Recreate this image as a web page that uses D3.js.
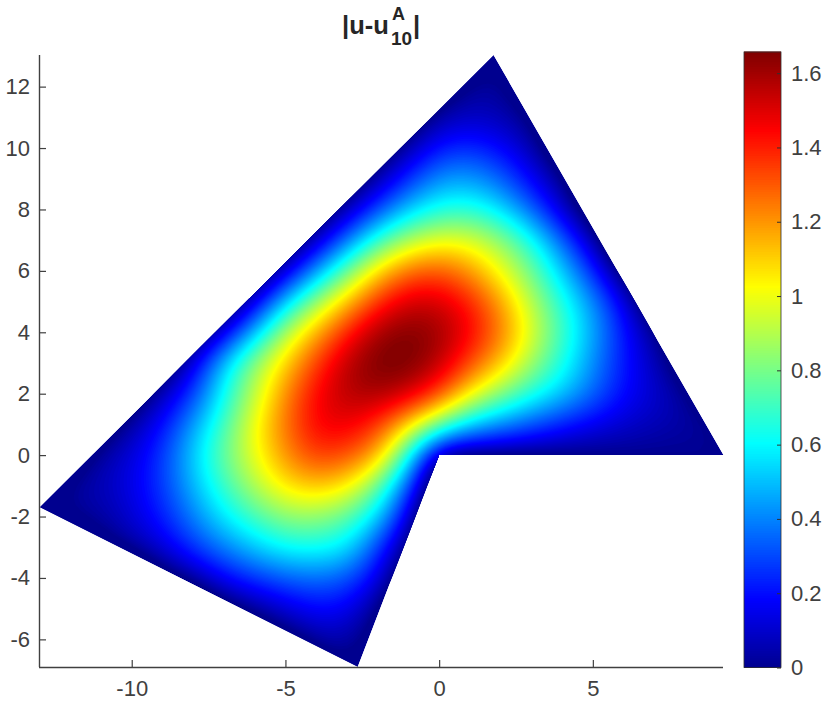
<!DOCTYPE html>
<html><head><meta charset="utf-8">
<script src="https://cdn.jsdelivr.net/npm/d3@7/dist/d3.min.js"></script>
<style>html,body{margin:0;padding:0;background:#fff}svg{display:block}</style>
</head><body><svg id="chart" width="830" height="709"></svg>
<script>
const gridX = d3.range(-14, 11);
const gridY = [14,13,12,11,10,9,8,7,6,5,4,3,2,1,0,-1,-2,-3,-4,-5,-6,-7,-8];
const o = -.4;
const row14 = [o,o,o,o,o,o,o,o,o,o,o,o,o,o,o,o,o,o,o,o,o,o,o,o,o];
const row13 = [o,o,o,o,o,o,o,o,o,o,o,o,o,o,-.3,-.12,-.02,-.25,o,o,o,o,o,o,o];
const row12 = [o,o,o,o,o,o,o,o,o,o,o,o,o,-.3,-.12,.02,.02,-.12,-.3,o,o,o,o,o,o];
const row11 = [o,o,o,o,o,o,o,o,o,o,o,o,-.3,-.12,.05,.09,.07,-.02,-.22,o,o,o,o,o,o];
const row10 = [o,o,o,o,o,o,o,o,o,o,o,-.3,-.12,.06,.22,.26,.19,.07,-.15,-.35,o,o,o,o,o];
const row9 = [o,o,o,o,o,o,o,o,o,o,-.3,-.12,.06,.26,.43,.45,.35,.18,.02,-.25,o,o,o,o,o];
const row8 = [o,o,o,o,o,o,o,o,o,-.3,-.12,.07,.3,.52,.65,.67,.56,.35,.11,-.12,-.35,o,o,o,o];
const row7 = [o,o,o,o,o,o,o,o,-.3,-.12,.09,.38,.69,.9,1,.98,.85,.64,.35,.07,-.25,o,o,o,o];
const row6 = [o,o,o,o,o,o,o,-.3,-.12,.11,.44,.78,1.09,1.27,1.31,1.2,1.01,.79,.52,.25,-.06,-.3,o,o,o];
const row5 = [o,o,o,o,o,o,-.3,-.12,.13,.52,.86,1.13,1.37,1.52,1.52,1.4,1.19,.91,.66,.42,.15,-.15,-.35,o,o];
const row4 = [o,o,o,o,o,-.3,-.12,.14,.5,.9,1.16,1.4,1.6,1.66,1.61,1.46,1.25,.98,.71,.47,.22,.02,-.2,o,o];
const row3 = [o,o,o,o,-.3,-.12,.14,.52,.85,1.1,1.35,1.56,1.67,1.67,1.56,1.33,1.13,.87,.65,.42,.22,.08,-.1,-.3,o];
const row2 = [o,o,o,-.3,-.12,.08,.28,.62,.92,1.22,1.45,1.57,1.6,1.52,1.34,1.05,.83,.66,.52,.36,.2,.11,.02,-.15,-.3];
const row1 = [o,o,-.3,-.12,.05,.2,.45,.72,1.02,1.26,1.46,1.48,1.36,1.1,.8,.53,.42,.32,.23,.16,.11,.07,.04,.01,-.1];
const row0 = [o,-.3,-.12,.04,.13,.28,.53,.78,1.0,1.21,1.36,1.32,1.17,.64,0,0,0,0,0,0,0,0,0,0,-.05];
const rowM1 = [-.3,-.12,.02,.07,.15,.28,.49,.7,.9,1.07,1.13,1.06,.78,.32,-.18,-.4,-.4,-.32,-.23,-.16,-.11,-.07,-.04,-.01,0];
const rowM2 = [-.3,-.1,.01,.03,.12,.23,.4,.58,.72,.84,.85,.76,.55,.13,-.3,o,o,o,o,o,o,o,o,o,o];
const rowM3 = [o,o,-.2,-.06,.03,.13,.27,.4,.52,.62,.63,.58,.28,-.02,-.35,o,o,o,o,o,o,o,o,o,o];
const rowM4 = [o,o,o,o,-.25,-.08,.04,.18,.27,.34,.37,.32,.16,-.15,o,o,o,o,o,o,o,o,o,o,o];
const rowM5 = [o,o,o,o,o,o,-.25,-.07,.03,.12,.19,.17,0,-.25,o,o,o,o,o,o,o,o,o,o,o];
const rowM6 = [o,o,o,o,o,o,o,o,-.2,-.07,.04,.05,-.08,-.3,o,o,o,o,o,o,o,o,o,o,o];
const rowM7 = [o,o,o,o,o,o,o,o,o,o,-.15,-.03,-.1,-.35,o,o,o,o,o,o,o,o,o,o,o];
const rowM8 = row14;
const fieldRows = [row14,row13,row12,row11,row10,row9,row8,row7,row6,row5,row4,row3,row2,row1,row0,rowM1,rowM2,rowM3,rowM4,rowM5,rowM6,rowM7,rowM8];

const domainX = [1.77, 9.25, 0, -2.65, -13];
const domainY = [13.03, 0, 0, -6.9, -1.7];
const xTicks = [-10,-5,0,5];
const yTicks = [-6,-4,-2,0,2,4,6,8,10,12];
const cTicks = [0,.2,.4,.6,.8,1,1.2,1.4,1.6];
const jetStops = ["#00008f","#0000ff","#00ffff","#ffff00","#ff0000","#800000"];
const jetPos = [0,.111,.365,.619,.873,1];
const cMax = 1.657;

const x = d3.scaleLinear().domain([-13,9.25]).range([39.5,723.5]);
const y = d3.scaleLinear().domain([-6.9,13.03]).range([667,55]);
const cy = d3.scaleLinear().domain([0,cMax]).range([667.5,52]);
const jet = d3.scaleLinear().domain(jetPos.map(p=>p*cMax)).range(jetStops).clamp(true);

const svg = d3.select("#chart");
const font = "'Liberation Sans',Arial,sans-serif";
const ink = "#404040";

// Smooth display resampling of the read-off grid
const f = 5, nc = gridX.length, nr = gridY.length;
const cr = (a,b,c,d,t)=>.5*((2*b)+(c-a)*t+(2*a-5*b+4*c-d)*t*t+(3*b-a-3*c+d)*t*t*t);
const at = (r,c)=>fieldRows[Math.max(0,Math.min(nr-1,r))][Math.max(0,Math.min(nc-1,c))];
const W = (nc-1)*f+1, H = (nr-1)*f+1, fine = new Float64Array(W*H);
for (let j=0;j<H;j++) for (let i=0;i<W;i++){
  const r=Math.floor(j/f), c=Math.floor(i/f), tr=j/f-r, tc=i/f-c, v=[];
  for(let k=-1;k<=2;k++) v.push(cr(at(r+k,c-1),at(r+k,c),at(r+k,c+1),at(r+k,c+2),tc));
  fine[j*W+i]=cr(v[0],v[1],v[2],v[3],tr);
}
d3.blur2({data:fine,width:W,height:H},2);
const levels = d3.range(1,160).map(k=>k/160*cMax);
const contours = d3.contours().size([W,H]).smooth(true).thresholds(levels)(fine);
const proj = d3.geoTransform({point(px,py){
  this.stream.point(x(gridX[0]+(px-.5)/f), y(gridY[0]-(py-.5)/f));
}});
const path = d3.geoPath(proj);
const polyPts = domainX.map((d,i)=>[x(d),y(domainY[i])]);
const polyD = "M"+polyPts.join("L")+"Z";

svg.append("clipPath").attr("id","dom").append("path").attr("d",polyD);
const g = svg.append("g").attr("clip-path","url(#dom)");
g.append("path").attr("d",polyD).attr("fill",jet(0));
g.selectAll("path.band").data(contours).join("path").attr("class","band")
  .attr("d",path).attr("fill",d=>jet(d.value));

// axes
const ax = svg.append("g").attr("transform","translate(0,667)").call(d3.axisBottom(x).tickValues(xTicks).tickSize(-7).tickPadding(13).tickFormat(d3.format("d")));
const ay = svg.append("g").attr("transform","translate(39,0)").call(d3.axisLeft(y).tickValues(yTicks).tickSize(-7).tickPadding(9).tickFormat(d3.format("d")));
[ax,ay].forEach(a=>{
  a.selectAll("text").attr("font-family",font).attr("font-size",22).attr("fill",ink).text(function(){return this.textContent.replace("\u2212","-");});
  a.selectAll("line").attr("stroke","#404040").attr("stroke-width",1.2);
  a.select(".domain").attr("stroke","#404040").attr("stroke-width",1.4);
});
ax.selectAll("text").attr("dy","0.71em");
ax.select(".domain").attr("d","M39,0.5H723");
ay.select(".domain").attr("d","M0.5,667V55");

// colorbar
const cg = svg.append("g");
const cells = d3.range(0,256);
cg.selectAll("rect").data(cells).join("rect")
  .attr("x",744).attr("width",37)
  .attr("y",d=>cy((d+1)/256*cMax)-.5).attr("height",d=>cy(d/256*cMax)-cy((d+1)/256*cMax)+1)
  .attr("fill",d=>jet((d+.5)/256*cMax));
cg.append("rect").attr("x",744).attr("y",52).attr("width",37).attr("height",615.5).attr("fill","none").attr("stroke","#303030").attr("stroke-width",.8);
const cax = svg.append("g").attr("transform","translate(781,0)").call(d3.axisRight(cy).tickValues(cTicks).tickSize(-4).tickPadding(10).tickFormat(d=>String(d)));
cax.select(".domain").remove();
cax.selectAll("line").attr("stroke","#303030").attr("stroke-width",1);
cax.selectAll("text").attr("font-family",font).attr("font-size",22).attr("fill",ink);

// title
const title = svg.append("g").attr("font-family",font).attr("font-weight","bold").attr("fill","#262626");
title.append("text").attr("x",342).attr("y",34).attr("font-size",25.5).text("|u-u");
title.append("text").attr("x",392).attr("y",20).attr("font-size",18).text("A");
title.append("text").attr("x",391).attr("y",45).attr("font-size",19).text("10");
title.append("text").attr("x",413).attr("y",34).attr("font-size",25.5).text("|");
</script></body></html>
